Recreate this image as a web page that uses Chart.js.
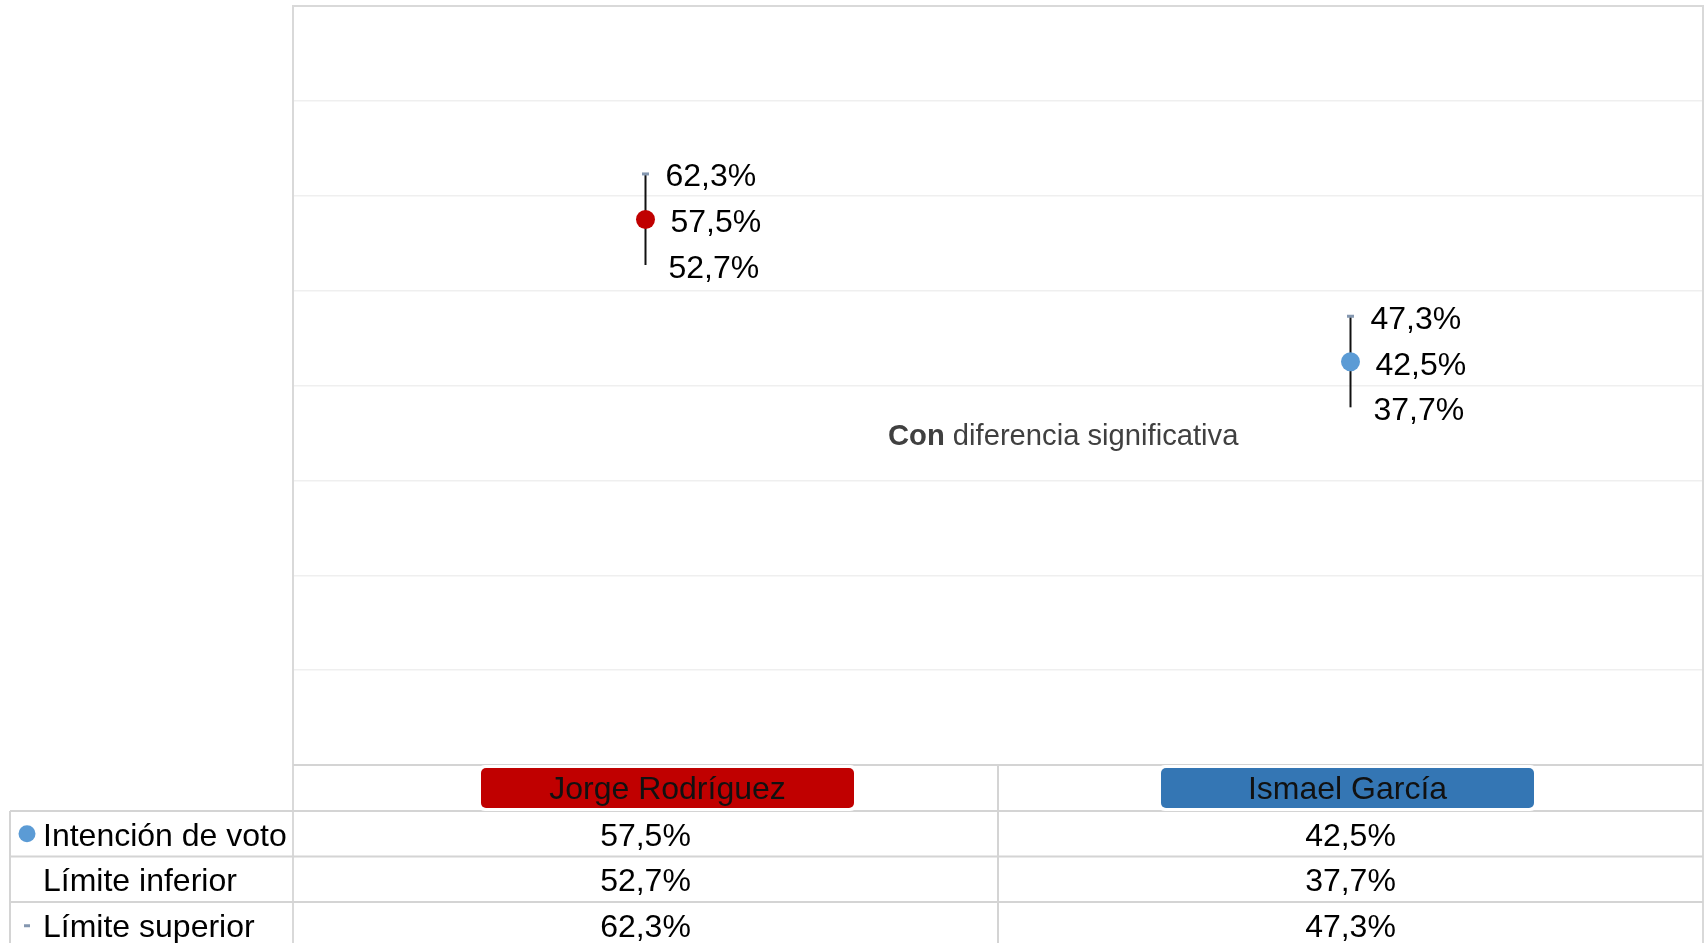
<!DOCTYPE html>
<html>
<head>
<meta charset="utf-8">
<script src="https://cdn.jsdelivr.net/npm/chart.js@4.4.0/dist/chart.umd.min.js"></script>
<style>
  body { margin: 0; background: #fff; overflow: hidden; }
  #wrap { width: 1707px; height: 943px; position: relative; }
</style>
</head>
<body>
<div id="wrap"><canvas id="grafico"></canvas></div>
<script>
// datos
var categorias = ['Jorge Rodríguez', 'Ismael García'];
var intencion = [57.5, 42.5];
var limiteInferior = [52.7, 37.7];
var limiteSuperior = [62.3, 47.3];
var series = ['Intención de voto', 'Límite inferior', 'Límite superior'];
var ejeY = { min: 0, max: 80, paso: 10 };
var nota = ['Con', ' diferencia significativa'];

var coloresPunto = ['#C00000', '#5B9BD5'];
var coloresCaja = ['#C00000', '#3476B4'];
var fuente = '"Liberation Sans", Arial, sans-serif';

function pct(v) {
  return v.toFixed(1).replace('.', ',') + '%';
}

// barra de error + etiquetas + tabla
var extras = {
  id: 'extras',
  beforeDatasetsDraw: function(chart) {
    var ctx = chart.ctx, x = chart.scales.x, y = chart.scales.y;
    ctx.save();
    ctx.strokeStyle = '#111';
    ctx.lineWidth = 2;
    for (var i = 0; i < categorias.length; i++) {
      var px = x.getPixelForValue(i);
      ctx.beginPath();
      ctx.moveTo(px, y.getPixelForValue(limiteSuperior[i]));
      ctx.lineTo(px, y.getPixelForValue(limiteInferior[i]));
      ctx.stroke();
    }
    ctx.restore();
  },
  afterDatasetsDraw: function(chart) {
    var ctx = chart.ctx, x = chart.scales.x, y = chart.scales.y;
    ctx.save();
    ctx.font = '32px ' + fuente;
    ctx.fillStyle = '#000';
    ctx.textBaseline = 'middle';
    ctx.textAlign = 'left';
    for (var i = 0; i < categorias.length; i++) {
      var px = x.getPixelForValue(i);
      ctx.fillText(pct(limiteSuperior[i]), px + 20, y.getPixelForValue(limiteSuperior[i]) + 3.5);
      ctx.fillText(pct(intencion[i]), px + 25, y.getPixelForValue(intencion[i]) + 4);
      ctx.fillText(pct(limiteInferior[i]), px + 23, y.getPixelForValue(limiteInferior[i]) + 4);
    }
    ctx.restore();
  },
  afterDraw: function(chart) {
    var ctx = chart.ctx, x = chart.scales.x, a = chart.chartArea;
    var H = chart.height;
    ctx.save();

    // borde del area
    ctx.strokeStyle = '#d9d9d9';
    ctx.lineWidth = 2;
    ctx.beginPath();
    ctx.moveTo(a.left, H);
    ctx.lineTo(a.left, a.top);
    ctx.lineTo(a.right, a.top);
    ctx.lineTo(a.right, H);
    ctx.stroke();

    // nota
    ctx.font = 'bold 29.2px ' + fuente;
    ctx.fillStyle = '#404040';
    ctx.textBaseline = 'middle';
    var nx = a.left + 595, ny = 437;
    ctx.fillText(nota[0], nx, ny);
    var w0 = ctx.measureText(nota[0]).width;
    ctx.font = '29.2px ' + fuente;
    ctx.fillText(nota[1], nx + w0, ny);

    // tabla
    var filaH = 45.5;
    var t0 = a.bottom;
    var filas = [t0, t0 + 46, t0 + 46 + filaH, t0 + 46 + filaH * 2];
    var izq = 10;
    var mitad = (a.left + a.right) / 2;
    ctx.strokeStyle = '#d4d4d4';
    ctx.lineWidth = 2;
    ctx.beginPath();
    ctx.moveTo(a.left, filas[0]); ctx.lineTo(a.right, filas[0]);
    for (var r = 1; r < filas.length; r++) {
      ctx.moveTo(izq, filas[r]); ctx.lineTo(a.right, filas[r]);
    }
    ctx.moveTo(izq, filas[1]); ctx.lineTo(izq, H);
    ctx.moveTo(mitad, filas[0]); ctx.lineTo(mitad, H);
    ctx.stroke();

    // cabeceras con caja
    var desplaz = [22, -3];
    ctx.textAlign = 'center';
    for (var i = 0; i < categorias.length; i++) {
      var cx = x.getPixelForValue(i) + desplaz[i];
      var bw = 373, bh = 40, by = filas[0] + 3;
      ctx.fillStyle = '#fff';
      ctx.beginPath();
      ctx.roundRect(cx - bw / 2 - 4, by - 3, bw + 8, bh + 6, 8);
      ctx.fill();
      ctx.fillStyle = coloresCaja[i];
      ctx.beginPath();
      ctx.roundRect(cx - bw / 2, by, bw, bh, 5);
      ctx.fill();
      ctx.fillStyle = '#111';
      ctx.font = '32px ' + fuente;
      ctx.fillText(categorias[i], cx, by + bh / 2 + 2);
    }

    // valores
    var valores = [intencion, limiteInferior, limiteSuperior];
    ctx.font = '32px ' + fuente;
    ctx.fillStyle = '#000';
    for (var r = 0; r < valores.length; r++) {
      var cy = filas[r + 1] + filaH / 2 + 3;
      for (var i = 0; i < categorias.length; i++) {
        ctx.textAlign = 'center';
        ctx.fillText(pct(valores[r][i]), x.getPixelForValue(i), cy);
      }
      ctx.textAlign = 'left';
      ctx.fillText(series[r], 43, cy);
    }

    // marcadores de leyenda
    var cy1 = filas[1] + filaH / 2;
    ctx.fillStyle = '#5B9BD5';
    ctx.beginPath();
    ctx.arc(27, cy1, 8.5, 0, Math.PI * 2);
    ctx.fill();
    var cy3 = filas[3] + filaH / 2 + 1;
    ctx.fillStyle = '#8497B0';
    ctx.fillRect(24, cy3 - 1.5, 6, 3);

    ctx.restore();
  }
};

var ctx = document.getElementById('grafico').getContext('2d');
new Chart(ctx, {
  type: 'line',
  data: {
    labels: categorias,
    datasets: [
      {
        label: series[0],
        data: intencion,
        showLine: false,
        pointRadius: 9.5,
        pointHoverRadius: 9.5,
        pointBorderWidth: 0,
        pointBackgroundColor: coloresPunto,
        pointBorderColor: coloresPunto
      },
      {
        label: series[1],
        data: limiteInferior,
        showLine: false,
        pointRadius: 0
      },
      {
        label: series[2],
        data: limiteSuperior,
        showLine: false,
        pointStyle: 'line',
        pointRadius: 3.5,
        pointBorderWidth: 3,
        pointBorderColor: '#8497B0',
        borderColor: '#8497B0'
      }
    ]
  },
  options: {
    responsive: true,
    maintainAspectRatio: false,
    animation: false,
    layout: { autoPadding: false, padding: { left: 293, top: 6, right: 4, bottom: 178 } },
    plugins: { legend: { display: false }, tooltip: { enabled: false } },
    scales: {
      x: { display: false, offset: true },
      y: {
        min: ejeY.min,
        max: ejeY.max,
        ticks: { display: false, stepSize: ejeY.paso },
        border: { display: false },
        grid: { color: '#efefef', lineWidth: 1.5, drawTicks: false }
      }
    }
  },
  plugins: [extras]
});
</script>
</body>
</html>
